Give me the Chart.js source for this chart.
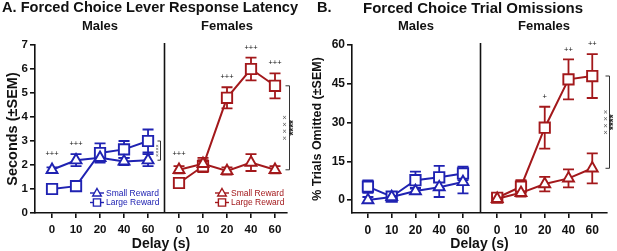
<!DOCTYPE html>
<html><head><meta charset="utf-8">
<script src="https://cdn.jsdelivr.net/npm/chart.js@4"></script>
<style>
body{margin:0;width:617px;height:251px;background:#fff;position:relative;overflow:hidden;font-family:"Liberation Sans",Arial,sans-serif}
.t{position:absolute;font-weight:bold;color:#111;white-space:nowrap;line-height:1}
.c{transform:translateX(-50%)}
canvas{position:absolute;top:0}
</style></head><body>
<canvas id="ca" width="300" height="251" style="left:0;width:300px;height:251px"></canvas>
<canvas id="cb" width="317" height="251" style="left:300px;width:317px;height:251px"></canvas>
<div class="t" style="left:2px;top:0px;font-size:14.6px">A. Forced Choice Lever Response Latency</div>
<div class="t c" style="left:100px;top:19px;font-size:13px">Males</div>
<div class="t c" style="left:227px;top:19px;font-size:13px">Females</div>
<div class="t" style="left:317px;top:0px;font-size:14.6px">B.</div>
<div class="t" style="left:363px;top:0px;font-size:15px">Forced Choice Trial Omissions</div>
<div class="t c" style="left:416px;top:19px;font-size:13px">Males</div>
<div class="t c" style="left:544px;top:19px;font-size:13px">Females</div>
<script>
// ---------- data ----------
const delays = ['0', '10', '20', '40', '60'];
const legendLabels = ['Small Reward', 'Large Reward'];
// A. lever response latency (s, mean and SEM)
const latMaleSmall    = [1.8, 2.2, 2.3, 2.15, 2.2];
const latMaleSmallSem = [0.1, 0.25, 0.15, 0.15, 0.25];
const latMaleLarge    = [1.0, 1.12, 2.5, 2.65, 3.0];
const latMaleLargeSem = [0.1, 0.12, 0.4, 0.35, 0.48];
const latFemSmall     = [1.8, 2.05, 1.75, 2.1, 1.8];
const latFemSmallSem  = [0.15, 0.25, 0.15, 0.35, 0.15];
const latFemLarge     = [1.25, 1.95, 4.8, 6.0, 5.3];
const latFemLargeSem  = [0.15, 0.25, 0.44, 0.47, 0.52];
const latMaleSig = ['+++', '+++', '', '', ''];
const latFemSig  = ['+++', '', '+++', '+++', '+++'];
const yTicksA = [0, 1, 2, 3, 4, 5, 6, 7];
// B. trial omissions (%, mean and SEM)
const omMaleSmall    = [0, 1.2, 3.5, 5.0, 7.0];
const omMaleSmallSem = [1.2, 0.6, 1.2, 3.8, 4.4];
const omMaleLarge    = [5.2, 1.3, 7.7, 8.8, 10.3];
const omMaleLargeSem = [2.4, 0.8, 3.3, 4.4, 2.6];
const omFemSmall     = [0.5, 2.8, 6.2, 8.4, 12.3];
const omFemSmallSem  = [0.8, 1.5, 2.8, 3.5, 5.8];
const omFemLarge     = [0.9, 5.2, 28, 46.7, 48];
const omFemLargeSem  = [1.5, 2.5, 8.1, 7.7, 8.5];
const omMaleSig = ['', '', '', '', ''];
const omFemSig  = ['', '', '+', '++', '++'];
const yTicksB = [0, 15, 30, 45, 60];

// ---------- style ----------
const BLUE = '#1f22b2', RED = '#a3181b';
const FONT = '"Liberation Sans", Arial, sans-serif';
Chart.defaults.font.family = FONT;
Chart.defaults.color = '#111';

function drawMarker(ctx, style, x, y, r) {
  ctx.beginPath();
  if (style === 'rect') {
    ctx.rect(x - r, y - r, 2 * r, 2 * r);
  } else {
    const h = r * 1.75;
    ctx.moveTo(x, y - h * 0.6);
    ctx.lineTo(x + r, y + h * 0.4);
    ctx.lineTo(x - r, y + h * 0.4);
    ctx.closePath();
  }
  ctx.fill(); ctx.stroke();
}

const overlay = {
  id: 'overlay',
  beforeDatasetsDraw(chart, args, o) {
    const ctx = chart.ctx, xs = chart.scales.x, ys = chart.scales.y;
    // divider
    const dx = Math.round(xs.getPixelForValue(o.divider)) + 0.5;
    ctx.save();
    ctx.strokeStyle = '#111'; ctx.lineWidth = 1.6;
    ctx.beginPath(); ctx.moveTo(dx, chart.chartArea.top - 2); ctx.lineTo(dx, chart.chartArea.bottom); ctx.stroke();
    // error bars
    chart.data.datasets.forEach((ds, di) => {
      const sem = o.sems[di];
      ctx.strokeStyle = ds.borderColor; ctx.lineWidth = 1.8;
      ds.data.forEach((p, i) => {
        const px = xs.getPixelForValue(p.x);
        const yt = ys.getPixelForValue(p.y + sem[i]);
        const yb = ys.getPixelForValue(p.y - sem[i]);
        ctx.beginPath();
        ctx.moveTo(px, yt); ctx.lineTo(px, yb);
        ctx.moveTo(px - o.cap, yt); ctx.lineTo(px + o.cap, yt);
        ctx.moveTo(px - o.cap, yb); ctx.lineTo(px + o.cap, yb);
        ctx.stroke();
      });
    });
    ctx.restore();
  },
  afterDatasetsDraw(chart, args, o) {
    const ctx = chart.ctx, xs = chart.scales.x, ys = chart.scales.y;
    const dsets = chart.data.datasets;
    ctx.save();
    // significance marks
    ctx.fillStyle = '#111'; ctx.textAlign = 'center'; ctx.textBaseline = 'middle';
    ctx.font = '7.5px ' + FONT;
    o.sig.forEach(g => {
      g.labels.forEach((lab, i) => {
        if (!lab) return;
        let top = Infinity, px = 0;
        g.ds.forEach(di => {
          const p = dsets[di].data[i];
          px = xs.getPixelForValue(p.x);
          top = Math.min(top, ys.getPixelForValue(p.y + o.sems[di][i]), ys.getPixelForValue(p.y) - 6);
        });
        ctx.fillText(lab, px, top - 10);
      });
    });
    // brackets
    o.brackets.forEach(b => {
      const last = dsets[b.hi].data.length - 1;
      const ph = dsets[b.hi].data[last], pl = dsets[b.lo].data[last];
      const bx = Math.round(xs.getPixelForValue(ph.x) + b.dx) + 0.5;
      const y1 = ys.getPixelForValue(ph.y), y2 = ys.getPixelForValue(pl.y);
      ctx.strokeStyle = '#333'; ctx.lineWidth = 1;
      ctx.beginPath();
      ctx.moveTo(bx - b.tick, y1); ctx.lineTo(bx, y1); ctx.lineTo(bx, y2); ctx.lineTo(bx - b.tick, y2);
      ctx.stroke();
      b.texts.forEach(t => {
        ctx.save();
        ctx.translate(bx + t.dx, (y1 + y2) / 2);
        ctx.rotate(-Math.PI / 2);
        ctx.font = t.font; ctx.fillStyle = t.color;
        ctx.textAlign = 'center'; ctx.textBaseline = 'middle';
        ctx.fillText(t.text, 0, 0);
        ctx.restore();
      });
    });
    // legends
    o.legends.forEach(L => {
      L.ds.forEach((di, k) => {
        const ds = dsets[di];
        const y = L.y + k * L.step;
        ctx.strokeStyle = ds.borderColor; ctx.fillStyle = '#fff'; ctx.lineWidth = 1.4;
        ctx.beginPath(); ctx.moveTo(L.x - 7, y); ctx.lineTo(L.x + 7, y); ctx.stroke();
        drawMarker(ctx, ds.pointStyle, L.x, y, ds.pointStyle === 'rect' ? 3.6 : 4.3);
        ctx.fillStyle = ds.borderColor;
        ctx.font = '8.5px ' + FONT; ctx.textAlign = 'left'; ctx.textBaseline = 'middle';
        ctx.fillText(legendLabels[k], L.x + 9, y + 0.5);
      });
    });
    ctx.restore();
  }
};

function series(vals, positions, color, style, label) {
  return {
    label, data: vals.map((v, i) => ({x: positions[i], y: v})),
    borderColor: color, borderWidth: 2, backgroundColor: '#fff',
    pointStyle: style, pointRadius: style === 'rect' ? 7.3 : 6.3,
    pointBorderWidth: 1.9, pointBackgroundColor: '#fff', pointBorderColor: color,
    tension: 0, clip: false, fill: false
  };
}

function makeChart(id, p) {
  const malePos = delays.map((d, i) => i);
  const femPos = delays.map((d, i) => i + p.femOffset);
  const xTicks = malePos.concat(femPos);
  const xLabels = delays.concat(delays);
  return new Chart(document.getElementById(id), {
    type: 'line',
    data: {
      datasets: [
        series(p.maleSmall, malePos, BLUE, 'triangle', 'Male ' + legendLabels[0]),
        series(p.maleLarge, malePos, BLUE, 'rect', 'Male ' + legendLabels[1]),
        series(p.femSmall, femPos, RED, 'triangle', 'Female ' + legendLabels[0]),
        series(p.femLarge, femPos, RED, 'rect', 'Female ' + legendLabels[1])
      ]
    },
    options: {
      responsive: false, animation: false, events: [],
      layout: {padding: {left: 0, top: 45, right: p.padRight, bottom: 0}},
      plugins: {
        legend: {display: false}, tooltip: {enabled: false},
        overlay: {
          divider: p.divider, cap: 5.5, sems: p.sems,
          sig: [{ds: [0, 1], labels: p.maleSig}, {ds: [2, 3], labels: p.femSig}],
          brackets: p.brackets, legends: p.legends
        }
      },
      scales: {
        x: {
          type: 'linear', min: p.xMin, max: p.xMax,
          afterBuildTicks: s => { s.ticks = xTicks.map(v => ({value: v})); },
          afterFit: s => { s.height = 38; },
          grid: {display: true, drawOnChartArea: false, drawTicks: true, tickLength: 5, color: '#111', lineWidth: 1.6},
          border: {display: true, color: '#111', width: 1.6},
          ticks: {autoSkip: false, maxRotation: 0, padding: 5, color: '#111',
                  font: {size: p.tickSize, weight: 'bold'}, callback: (v, i) => xLabels[i]},
          title: {display: true, text: 'Delay (s)', color: '#111', font: {size: 14, weight: 'bold', lineHeight: 1.0}, padding: {top: 0, bottom: 0}}
        },
        y: {
          type: 'linear', min: p.yMin, max: p.yMax,
          afterBuildTicks: s => { s.ticks = p.yTicks.map(v => ({value: v})); },
          afterFit: s => { s.width = p.yWidth; },
          grid: {display: true, drawOnChartArea: false, drawTicks: true, tickLength: 5, color: '#111', lineWidth: 1.6},
          border: {display: true, color: '#111', width: 1.6},
          ticks: {padding: 2, color: '#111', font: {size: p.tickSize, weight: 'bold'}},
          title: {display: true, text: p.yTitle, color: '#111', font: {size: p.yTitleSize, weight: 'bold'}, padding: {top: p.yTitlePad, bottom: 0}}
        }
      }
    },
    plugins: [overlay]
  });
}

makeChart('ca', {
  maleSmall: latMaleSmall, maleLarge: latMaleLarge, femSmall: latFemSmall, femLarge: latFemLarge,
  sems: [latMaleSmallSem, latMaleLargeSem, latFemSmallSem, latFemLargeSem],
  maleSig: latMaleSig, femSig: latFemSig,
  femOffset: 5.29, divider: 4.67, xMin: -0.71, xMax: 9.79,
  yMin: 0, yMax: 7, yTicks: yTicksA, yWidth: 35, padRight: 13,
  tickSize: 11.5, yTitle: 'Seconds (±SEM)', yTitleSize: 14.5, yTitlePad: 4,
  brackets: [
    {hi: 1, lo: 0, dx: 12, tick: 3, texts: [{text: '××××', dx: -3, font: '5.5px ' + FONT, color: '#555'}]},
    {hi: 3, lo: 2, dx: 14, tick: 4, texts: [
      {text: '× × × ×', dx: -5, font: '8px ' + FONT, color: '#555'},
      {text: '****', dx: 5, font: 'bold 10px ' + FONT, color: '#222'}]}
  ],
  legends: [{x: 97, y: 193, step: 9.5, ds: [0, 1]}, {x: 222, y: 193, step: 9.5, ds: [2, 3]}]
});

makeChart('cb', {
  maleSmall: omMaleSmall, maleLarge: omMaleLarge, femSmall: omFemSmall, femLarge: omFemLarge,
  sems: [omMaleSmallSem, omMaleLargeSem, omFemSmallSem, omFemLargeSem],
  maleSig: omMaleSig, femSig: omFemSig,
  femOffset: 5.44, divider: 4.73, xMin: -0.67, xMax: 10.06,
  yMin: -5, yMax: 60, yTicks: yTicksB, yWidth: 52, padRight: 10,
  tickSize: 12, yTitle: '% Trials Omitted (±SEM)', yTitleSize: 12.5, yTitlePad: 10.5,
  brackets: [
    {hi: 3, lo: 2, dx: 17, tick: 4, texts: [
      {text: '× × × ×', dx: -4, font: '8px ' + FONT, color: '#555'},
      {text: '****', dx: 5, font: 'bold 10px ' + FONT, color: '#222'}]}
  ],
  legends: []
});
</script>
</body></html>
